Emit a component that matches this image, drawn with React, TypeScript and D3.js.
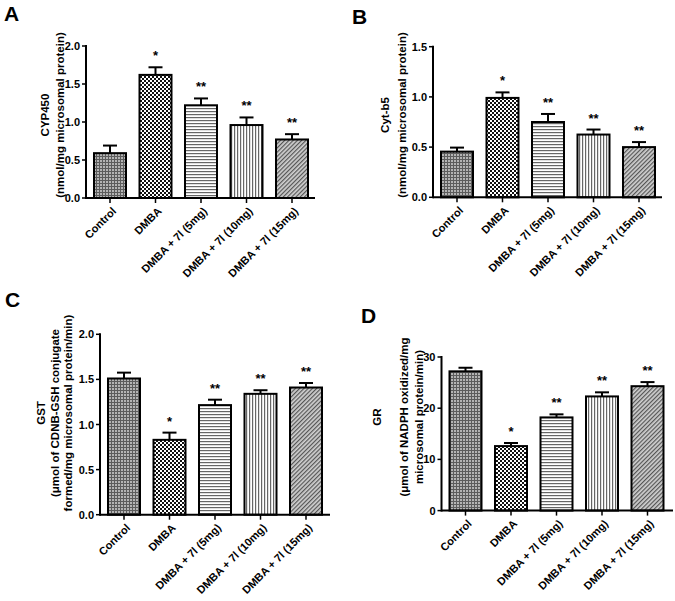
import React from "react";
import * as d3 from "d3";

const categories = ["Control", "DMBA", "DMBA + 7l (5mg)", "DMBA + 7l (10mg)", "DMBA + 7l (15mg)"];

const cypValues = [0.59, 1.62, 1.22, 0.96, 0.77];
const cypErrors = [0.1, 0.1, 0.09, 0.1, 0.07];
const cypStars = ["", "*", "**", "**", "**"];
const cypTicks = [0, 0.5, 1.0, 1.5, 2.0];

const cytValues = [0.455, 0.99, 0.75, 0.625, 0.5];
const cytErrors = [0.04, 0.055, 0.08, 0.05, 0.05];
const cytStars = ["", "*", "**", "**", "**"];
const cytTicks = [0, 0.5, 1.0, 1.5];

const gstValues = [1.51, 0.83, 1.215, 1.34, 1.41];
const gstErrors = [0.065, 0.08, 0.06, 0.04, 0.05];
const gstStars = ["", "*", "**", "**", "**"];
const gstTicks = [0, 0.5, 1.0, 1.5, 2.0];

const grValues = [27.2, 12.6, 18.2, 22.3, 24.3];
const grErrors = [0.7, 0.6, 0.6, 0.8, 0.8];
const grStars = ["", "*", "**", "**", "**"];
const grTicks = [0, 10, 20, 30];

const patterns = ["pCtrl", "pDmba", "pH", "pV", "pD"];
const FONT = "'Liberation Sans', Arial, sans-serif";

type PanelProps = {
  letter: string;
  letterX: number;
  letterY: number;
  values: number[];
  errors: number[];
  stars: string[];
  ticks: number[];
  tickFmt: (v: number) => string;
  axisX: number;
  xEnd: number;
  yTop: number;
  yBottom: number;
  labelLines: { text: string; x: number }[];
  labelY: number;
};

function Panel(p: PanelProps) {
  const y = d3
    .scaleLinear()
    .domain([0, p.ticks[p.ticks.length - 1]])
    .range([p.yBottom, p.yTop]);
  const x = d3
    .scalePoint<string>()
    .domain(categories)
    .range([p.axisX + 24, p.axisX + 24 + 4 * 45.5]);
  const bw = 32;
  const cap = 7;
  return (
    <g fontFamily={FONT} fontWeight="bold">
      <text x={p.letterX} y={p.letterY} fontSize={21}>
        {p.letter}
      </text>
      {p.labelLines.map((l, i) => (
        <text
          key={i}
          transform={`translate(${l.x},${p.labelY}) rotate(-90)`}
          textAnchor="middle"
          dominantBaseline="central"
          fontSize={11.5}
        >
          {l.text}
        </text>
      ))}
      {categories.map((c, i) => {
        const cx = x(c)!;
        const top = y(p.values[i]);
        const et = y(p.values[i] + p.errors[i]);
        return (
          <g key={c}>
            <line x1={cx} x2={cx} y1={top} y2={et} stroke="#000" strokeWidth={2} />
            <line x1={cx - cap} x2={cx + cap} y1={et} y2={et} stroke="#000" strokeWidth={2} />
            <rect
              x={cx - bw / 2}
              y={top}
              width={bw}
              height={p.yBottom - top}
              fill={`url(#${patterns[i]})`}
              stroke="#000"
              strokeWidth={2}
            />
            {p.stars[i] && (
              <text x={cx} y={et - 7} textAnchor="middle" fontSize={13}>
                {p.stars[i]}
              </text>
            )}
            <line x1={cx} x2={cx} y1={p.yBottom} y2={p.yBottom + 5} stroke="#000" strokeWidth={1.5} />
            <text
              transform={`translate(${cx + 4},${p.yBottom + 11}) rotate(-45)`}
              textAnchor="end"
              dominantBaseline="central"
              fontSize={11}
            >
              {c}
            </text>
          </g>
        );
      })}
      <line x1={p.axisX} x2={p.xEnd} y1={p.yBottom} y2={p.yBottom} stroke="#000" strokeWidth={2} />
      <line x1={p.axisX} x2={p.axisX} y1={p.yTop - 1} y2={p.yBottom + 1} stroke="#000" strokeWidth={2} />
      {p.ticks.map((t) => (
        <g key={t}>
          <line x1={p.axisX - 4} x2={p.axisX} y1={y(t)} y2={y(t)} stroke="#000" strokeWidth={1.5} />
          <text x={p.axisX - 6} y={y(t)} textAnchor="end" dominantBaseline="central" fontSize={11}>
            {p.tickFmt(t)}
          </text>
        </g>
      ))}
    </g>
  );
}

export default function App() {
  const f1 = (v: number) => v.toFixed(1);
  const f0 = (v: number) => String(v);
  return (
    <svg
      width={675}
      height={601}
      style={{ position: "absolute", left: 0, top: 0, display: "block", background: "#fff" }}
    >
      <defs>
        <pattern id="pCtrl" width={3} height={3} patternUnits="userSpaceOnUse">
          <rect width={3} height={3} fill="#b4b4b4" />
          <rect width={3} height={1} fill="#5c5c5c" />
          <rect width={1} height={3} fill="#5c5c5c" />
        </pattern>
        <pattern id="pDmba" width={4} height={4} patternUnits="userSpaceOnUse">
          <rect width={4} height={4} fill="#fff" />
          <rect x={0} y={0} width={2} height={2} fill="#111" />
          <rect x={2} y={2} width={2} height={2} fill="#111" />
        </pattern>
        <pattern id="pH" width={3} height={3} patternUnits="userSpaceOnUse">
          <rect width={3} height={3} fill="#fff" />
          <rect y={0} width={3} height={1.2} fill="#666" />
        </pattern>
        <pattern id="pV" width={3} height={3} patternUnits="userSpaceOnUse">
          <rect width={3} height={3} fill="#fff" />
          <rect x={0} width={1.2} height={3} fill="#666" />
        </pattern>
        <pattern id="pD" width={3} height={3} patternUnits="userSpaceOnUse" patternTransform="rotate(45)">
          <rect width={3} height={3} fill="#d0d0d0" />
          <rect x={0} width={1.2} height={3} fill="#555" />
        </pattern>
      </defs>
      <Panel
        letter="A"
        letterX={4}
        letterY={21}
        values={cypValues}
        errors={cypErrors}
        stars={cypStars}
        ticks={cypTicks}
        tickFmt={f1}
        axisX={86}
        xEnd={315}
        yTop={46}
        yBottom={198}
        labelLines={[
          { text: "CYP450", x: 45 },
          { text: "(nmol/mg microsomal protein)", x: 60 },
        ]}
        labelY={115}
      />
      <Panel
        letter="B"
        letterX={352}
        letterY={24}
        values={cytValues}
        errors={cytErrors}
        stars={cytStars}
        ticks={cytTicks}
        tickFmt={f1}
        axisX={433}
        xEnd={662}
        yTop={46.7}
        yBottom={197.3}
        labelLines={[
          { text: "Cyt-b5", x: 385 },
          { text: "(nmol/mg microsomal protein)", x: 401.5 },
        ]}
        labelY={115}
      />
      <Panel
        letter="C"
        letterX={5}
        letterY={307}
        values={gstValues}
        errors={gstErrors}
        stars={gstStars}
        ticks={gstTicks}
        tickFmt={f1}
        axisX={100}
        xEnd={330}
        yTop={334.3}
        yBottom={514.7}
        labelLines={[
          { text: "GST", x: 41 },
          { text: "(μmol of CDNB-GSH conjugate", x: 55 },
          { text: "formed/mg microsomal protein/min)", x: 68 },
        ]}
        labelY={413}
      />
      <Panel
        letter="D"
        letterX={361}
        letterY={323}
        values={grValues}
        errors={grErrors}
        stars={grStars}
        ticks={grTicks}
        tickFmt={f0}
        axisX={441.5}
        xEnd={673}
        yTop={357}
        yBottom={510.6}
        labelLines={[
          { text: "GR", x: 377 },
          { text: "(μmol of NADPH oxidized/mg", x: 404 },
          { text: "microsomal protein/min)", x: 419 },
        ]}
        labelY={417}
      />
    </svg>
  );
}
